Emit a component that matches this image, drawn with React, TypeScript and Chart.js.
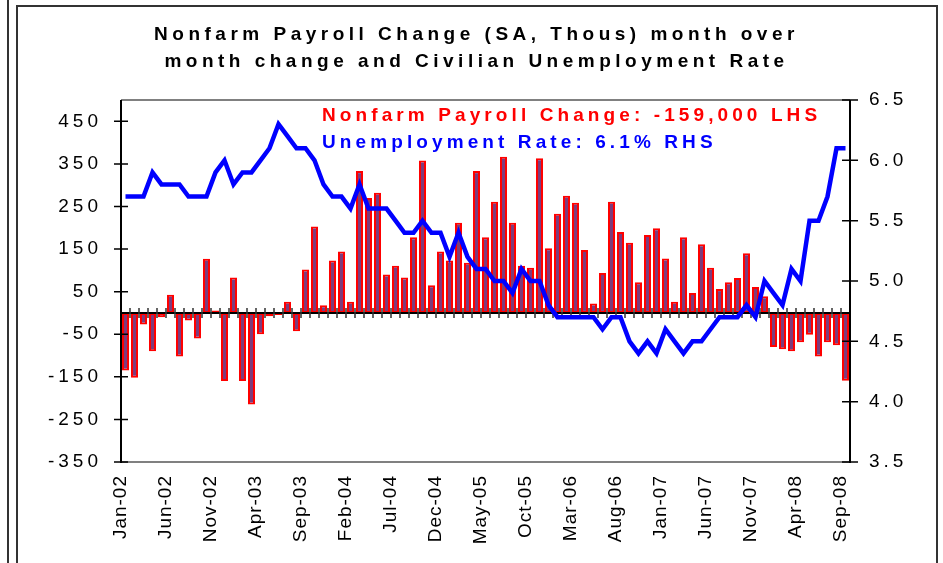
import React, { useEffect, useRef } from "react";
import { Chart, registerables } from "chart.js";

Chart.register(...registerables);

// ---------- data ----------
const MONTHS = ["Jan", "Feb", "Mar", "Apr", "May", "Jun", "Jul", "Aug", "Sep", "Oct", "Nov", "Dec"];
const YEARS = ["02", "03", "04", "05", "06", "07", "08"];
const CATEGORIES: string[] = YEARS.flatMap((y) => MONTHS.map((m) => `${m}-${y}`)).slice(0, 81);

// Nonfarm payroll change, thousands (LHS)
const PAYROLL_CHANGE = [
  -135, -152, -27, -90, -10, 43, -102, -18, -60, 127, 6, -160,
  83, -160, -215, -50, -8, -5, 26, -43, 102, 203, 18, 123,
  144, 26, 333, 270, 282, 90, 111, 83, 178, 358, 65, 144,
  123, 212, 118, 333, 178, 261, 367, 212, 111, 106, 363, 152,
  233, 275, 259, 148, 22, 94, 261, 190, 165, 72, 183, 199,
  128, 26, 178, 47, 161, 106, 56, 72, 82, 140, 61, 39,
  -80, -85, -90, -69, -51, -102, -69, -76, -159,
];

// Civilian unemployment rate, % (RHS)
const UNEMPLOYMENT_RATE = [
  5.7, 5.7, 5.7, 5.9, 5.8, 5.8, 5.8, 5.7, 5.7, 5.7, 5.9, 6.0,
  5.8, 5.9, 5.9, 6.0, 6.1, 6.3, 6.2, 6.1, 6.1, 6.0, 5.8, 5.7,
  5.7, 5.6, 5.8, 5.6, 5.6, 5.6, 5.5, 5.4, 5.4, 5.5, 5.4, 5.4,
  5.2, 5.4, 5.2, 5.1, 5.1, 5.0, 5.0, 4.9, 5.1, 5.0, 5.0, 4.8,
  4.7, 4.7, 4.7, 4.7, 4.7, 4.6, 4.7, 4.7, 4.5, 4.4, 4.5, 4.4,
  4.6, 4.5, 4.4, 4.5, 4.5, 4.6, 4.7, 4.7, 4.7, 4.8, 4.7, 5.0,
  4.9, 4.8, 5.1, 5.0, 5.5, 5.5, 5.7, 6.1, 6.1,
];

const LEFT_TICKS = [-350, -250, -150, -50, 50, 150, 250, 350, 450];
const LEFT_MIN = -350;
const LEFT_MAX = 500;
const RIGHT_TICKS = [3.5, 4.0, 4.5, 5.0, 5.5, 6.0, 6.5];
const RIGHT_MIN = 3.5;
const RIGHT_MAX = 6.5;
const LABEL_EVERY = 5;

const TITLE_LINES = [
  "Nonfarm Payroll Change (SA, Thous) month over",
  "month change and Civilian Unemployment Rate",
];
const LEGEND_PAYROLL = "Nonfarm Payroll Change: -159,000 LHS";
const LEGEND_RATE = "Unemployment Rate: 6.1% RHS";

const FONT = "'Liberation Sans', Arial, Helvetica, sans-serif";

// ---------- plugin: Excel-like axes ----------
const excelAxes = {
  id: "excelAxes",
  beforeDraw(chart: any) {
    const ctx = chart.ctx;
    Object.values(chart.scales).forEach((s: any) => {
      if (s.__patched) return;
      const orig = s.drawLabels.bind(s);
      s.drawLabels = (area: any) => {
        ctx.save();
        (ctx as any).letterSpacing = s.axis === "x" ? "1px" : "4px";
        orig(area);
        ctx.restore();
      };
      s.__patched = true;
    });
  },
  afterDatasetDraw(chart: any, args: any) {
    if (args.meta.type !== "bar") return;
    const { ctx, chartArea, scales } = chart;
    const x = scales.x;
    const yl = scales.y;
    const yr = scales.y1;
    const n = CATEGORIES.length;
    const step = (x.getPixelForValue(n - 1) - x.getPixelForValue(0)) / (n - 1);
    ctx.save();
    // gray top & bottom frame
    ctx.strokeStyle = "#808080";
    ctx.lineWidth = 2;
    ctx.beginPath();
    ctx.moveTo(chartArea.left, chartArea.top);
    ctx.lineTo(chartArea.right, chartArea.top);
    ctx.moveTo(chartArea.left, chartArea.bottom);
    ctx.lineTo(chartArea.right, chartArea.bottom);
    ctx.stroke();
    // zero line
    const y0 = yl.getPixelForValue(0);
    ctx.strokeStyle = "#000";
    ctx.lineWidth = 2;
    ctx.beginPath();
    ctx.moveTo(chartArea.left, y0);
    ctx.lineTo(chartArea.right, y0);
    ctx.stroke();
    ctx.lineWidth = 1.5;
    ctx.strokeStyle = "#333";
    ctx.beginPath();
    for (let i = 0; i <= n; i++) {
      const px = x.getPixelForValue(i) - step / 2;
      ctx.moveTo(px, y0 - 5);
      ctx.lineTo(px, y0 + 5);
    }
    ctx.stroke();
    // left & right axis lines
    ctx.strokeStyle = "#000";
    ctx.lineWidth = 2;
    ctx.beginPath();
    ctx.moveTo(chartArea.left, chartArea.top);
    ctx.lineTo(chartArea.left, chartArea.bottom + 1);
    ctx.moveTo(chartArea.right, chartArea.top);
    ctx.lineTo(chartArea.right, chartArea.bottom + 1);
    ctx.stroke();
    ctx.lineWidth = 1.5;
    ctx.beginPath();
    LEFT_TICKS.forEach((v) => {
      const py = yl.getPixelForValue(v);
      ctx.moveTo(chartArea.left - 7, py);
      ctx.lineTo(chartArea.left + 7, py);
    });
    RIGHT_TICKS.forEach((v) => {
      const py = yr.getPixelForValue(v);
      ctx.moveTo(chartArea.right - 8, py);
      ctx.lineTo(chartArea.right + 8, py);
    });
    ctx.stroke();
    ctx.restore();
  },
};

export default function App() {
  const canvasRef = useRef<HTMLCanvasElement | null>(null);

  useEffect(() => {
    const canvas = canvasRef.current;
    if (!canvas) return;
    const chart = new Chart(canvas, {
      type: "bar",
      data: {
        labels: CATEGORIES,
        datasets: [
          {
            type: "line",
            label: "Unemployment Rate",
            data: UNEMPLOYMENT_RATE,
            yAxisID: "y1",
            borderColor: "#0000ff",
            backgroundColor: "#0000ff",
            borderWidth: 4.5,
            pointRadius: 0,
            tension: 0,
            fill: false,
            order: 0,
          } as any,
          {
            type: "bar",
            label: "Nonfarm Payroll Change",
            data: PAYROLL_CHANGE,
            yAxisID: "y",
            backgroundColor: "#7c3c7c",
            borderColor: "#ff0000",
            borderWidth: 2,
            borderSkipped: false,
            barPercentage: 7 / 9,
            categoryPercentage: 1,
            order: 1,
          } as any,
        ],
      },
      options: {
        responsive: false,
        animation: false,
        devicePixelRatio: 1,
        layout: { padding: { top: 100, left: 0, right: 0, bottom: 0 } },
        plugins: {
          legend: { display: false },
          tooltip: { enabled: false },
          title: { display: false },
        },
        scales: {
          x: {
            type: "category",
            offset: true,
            grid: { display: false, drawTicks: false, tickLength: 0 },
            border: { display: false },
            ticks: {
              autoSkip: false,
              minRotation: 90,
              maxRotation: 90,
              labelOffset: -5,
              padding: 13,
              color: "#000",
              font: { family: FONT, size: 19 },
              callback: (_v: any, idx: number) => (idx % LABEL_EVERY === 0 ? CATEGORIES[idx] : ""),
            },
            afterFit: (s: any) => {
              s.height = 101;
            },
          },
          y: {
            type: "linear",
            position: "left",
            min: LEFT_MIN,
            max: LEFT_MAX,
            grid: { display: false, drawTicks: false, tickLength: 0 },
            border: { display: false },
            afterBuildTicks: (s: any) => {
              s.ticks = LEFT_TICKS.map((v) => ({ value: v }));
            },
            ticks: {
              padding: 19,
              color: "#000",
              font: { family: FONT, size: 19 },
              callback: (v: any) => String(v),
            },
            afterFit: (s: any) => {
              s.width = 121;
            },
          },
          y1: {
            type: "linear",
            position: "right",
            min: RIGHT_MIN,
            max: RIGHT_MAX,
            grid: { display: false, drawTicks: false, tickLength: 0 },
            border: { display: false },
            afterBuildTicks: (s: any) => {
              s.ticks = RIGHT_TICKS.map((v) => ({ value: v }));
            },
            ticks: {
              padding: 19,
              color: "#000",
              font: { family: FONT, size: 19 },
              callback: (v: any) => Number(v).toFixed(1),
            },
            afterFit: (s: any) => {
              s.width = 93;
            },
          },
        },
      } as any,
      plugins: [excelAxes],
    });
    return () => chart.destroy();
  }, []);

  const line = "#333";
  return (
    <div style={{ position: "absolute", left: 0, top: 0, width: 943, height: 563, overflow: "hidden", background: "#fff" }}>
      {/* page / frame lines */}
      <div style={{ position: "absolute", left: 7, top: 0, width: 2, height: 563, background: line }} />
      <div
        style={{
          position: "absolute",
          left: 16,
          top: 5,
          width: 918,
          height: 600,
          border: `2px solid ${line}`,
        }}
      />
      <canvas ref={canvasRef} width={943} height={563} style={{ position: "absolute", left: 0, top: 0, display: "block" }} />
      {/* title */}
      <div
        style={{
          position: "absolute",
          left: 17,
          top: 20,
          width: 919,
          textAlign: "center",
          fontFamily: FONT,
          fontWeight: "bold",
          fontSize: 19,
          lineHeight: "27px",
          letterSpacing: "4.5px",
          color: "#000",
          whiteSpace: "nowrap",
        }}
      >
        {TITLE_LINES.map((t) => (
          <div key={t}>{t}</div>
        ))}
      </div>
      {/* in-chart legend */}
      <div
        style={{
          position: "absolute",
          left: 322,
          top: 101,
          fontFamily: FONT,
          fontWeight: "bold",
          fontSize: 19,
          lineHeight: "27px",
          letterSpacing: "4.1px",
          whiteSpace: "nowrap",
        }}
      >
        <div style={{ color: "#ff0000" }}>{LEGEND_PAYROLL}</div>
        <div style={{ color: "#0000ff" }}>{LEGEND_RATE}</div>
      </div>
    </div>
  );
}
